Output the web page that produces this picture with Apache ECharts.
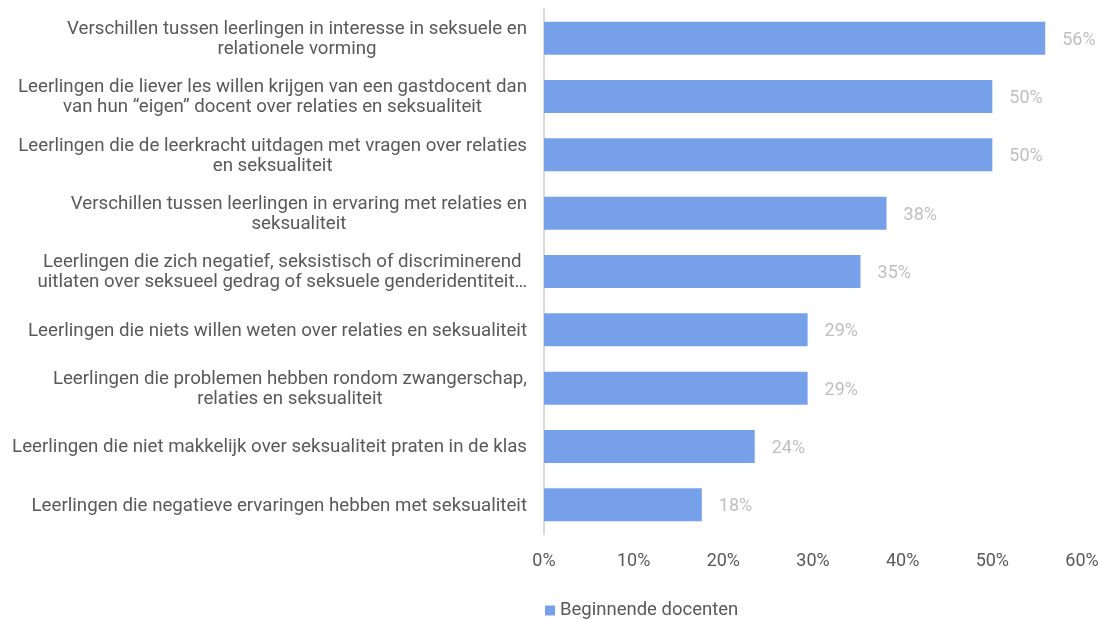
<!DOCTYPE html>
<html>
<head>
<meta charset="utf-8">
<script src="https://cdn.jsdelivr.net/npm/echarts@6/dist/echarts.min.js"></script>
<style>
  html, body { margin: 0; padding: 0; background: #fff; }
  #chart { width: 1102px; height: 619px; }
</style>
</head>
<body>
<div id="chart"></div>
<script>
// Categorieën (van boven naar beneden)
const categories = [
  'Verschillen tussen leerlingen in interesse in seksuele en\nrelationele vorming',
  'Leerlingen die liever les willen krijgen van een gastdocent dan\nvan hun “eigen” docent over relaties en seksualiteit',
  'Leerlingen die de leerkracht uitdagen met vragen over relaties\nen seksualiteit',
  'Verschillen tussen leerlingen in ervaring met relaties en\nseksualiteit',
  'Leerlingen die zich negatief, seksistisch of discriminerend\nuitlaten over seksueel gedrag of seksuele genderidentiteit…',
  'Leerlingen die niets willen weten over relaties en seksualiteit',
  'Leerlingen die problemen hebben rondom zwangerschap,\nrelaties en seksualiteit',
  'Leerlingen die niet makkelijk over seksualiteit praten in de klas',
  'Leerlingen die negatieve ervaringen hebben met seksualiteit'
];

// Percentages beginnende docenten
const beginnendeDocenten = [55.9, 50.0, 50.0, 38.2, 35.3, 29.4, 29.4, 23.5, 17.6];

const seriesName = 'Beginnende docenten';

const chart = echarts.init(document.getElementById('chart'));

const option = {
  textStyle: { fontFamily: 'Roboto' },
  animation: false,
  grid: {
    left: 544,
    right: 20,
    top: 9,
    bottom: 85
  },
  legend: {
    data: [seriesName],
    left: 540,
    top: 596,
    icon: 'rect',
    itemWidth: 10,
    itemHeight: 10,
    itemGap: 5,
    textStyle: { color: '#595959', fontSize: 18.5, fontFamily: 'Roboto' }
  },
  xAxis: {
    type: 'value',
    min: 0,
    max: 60,
    interval: 10,
    axisLine: { show: false },
    axisTick: { show: false },
    splitLine: { show: false },
    axisLabel: {
      formatter: '{value}%',
      color: '#595959',
      fontSize: 18,
      margin: 18
    }
  },
  yAxis: {
    type: 'category',
    inverse: true,
    data: categories,
    axisLine: { show: true, lineStyle: { color: '#d9d9d9', width: 2 } },
    axisTick: { show: false },
    axisLabel: {
      margin: 17,
      padding: [2, 0, 0, 0],
      formatter: (v) => v.split('\n').map((l) => '{c|' + l + '}').join('\n'),
      rich: {
        c: {
          align: 'center',
          color: '#595959',
          fontSize: 18.7,
          lineHeight: 20,
          fontFamily: 'Roboto'
        }
      }
    }
  },
  series: [
    {
      name: seriesName,
      type: 'bar',
      data: beginnendeDocenten,
      barWidth: 33,
      itemStyle: { color: '#76a0ea' },
      label: {
        show: true,
        position: 'right',
        distance: 17,
        offset: [0, 2],
        color: '#bfbfbf',
        fontSize: 18,
        formatter: (p) => Math.round(p.value) + '%'
      }
    }
  ]
};

chart.setOption(option);
</script>
</body>
</html>
